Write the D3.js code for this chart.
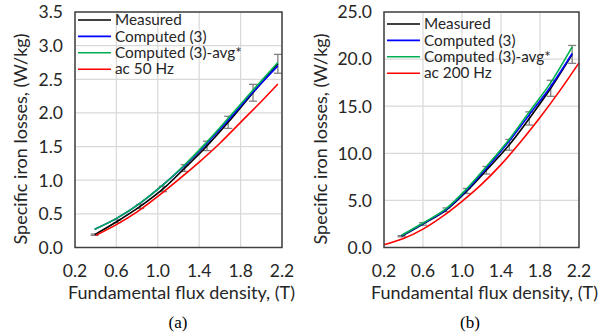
<!DOCTYPE html>
<html>
<head>
<meta charset="utf-8">
<script src="https://cdn.jsdelivr.net/npm/d3@7"></script>
<style>
  body { margin: 0; background: white; }
  svg { display: block; font-family: Lato, "Open Sans", sans-serif; }
</style>
</head>
<body>
<div class="figure"></div>
<script>

// (a) 50 Hz
var fluxA = [0.39, 0.61, 0.83, 1.05, 1.26, 1.475, 1.68, 1.92, 2.16];
var measuredA = [0.19, 0.39, 0.61, 0.87, 1.18, 1.51, 1.86, 2.30, 2.73];
var errA = [0.01, 0.02, 0.03, 0.04, 0.05, 0.07, 0.09, 0.125, 0.14];
var computedA = [0.27, 0.44, 0.66, 0.93, 1.22, 1.55, 1.89, 2.31, 2.70];
var avgA = [0.27, 0.44, 0.66, 0.93, 1.23, 1.57, 1.92, 2.34, 2.75];
var acFluxA = [0.4, 0.6, 0.8, 1.0, 1.2, 1.4, 1.6, 1.8, 2.0, 2.16];
var acA = [0.18, 0.34, 0.53, 0.76, 1.01, 1.27, 1.55, 1.86, 2.17, 2.43];
var yTicksA = [0, 0.5, 1.0, 1.5, 2.0, 2.5, 3.0, 3.5];

// (b) 200 Hz
var fluxB = [0.38, 0.6, 0.84, 1.05, 1.25, 1.485, 1.69, 1.91, 2.13];
var measuredB = [1.2, 2.5, 4.0, 6.0, 8.2, 10.9, 13.7, 16.9, 20.5];
var errB = [0.06, 0.13, 0.2, 0.27, 0.4, 0.57, 0.7, 0.85, 0.95];
var computedB = [1.25, 2.55, 4.05, 6.1, 8.4, 11.3, 14.1, 17.1, 20.6];
var avgB = [1.3, 2.6, 4.15, 6.25, 8.6, 11.5, 14.4, 17.5, 21.3];
var acFluxB = [0.2, 0.4, 0.6, 0.8, 1.0, 1.2, 1.4, 1.6, 1.8, 2.0, 2.2];
var acB = [0.3, 0.95, 1.95, 3.3, 4.9, 6.7, 8.8, 11.2, 13.8, 16.6, 19.6];
var yTicksB = [0, 5, 10, 15, 20, 25];

var xTicks = [0.2, 0.6, 1.0, 1.4, 1.8, 2.2];
var seriesColors = ["#000000", "#0000ff", "#00b050", "#ff0000"];

var svg = d3
  .select(".figure")
  .append("svg")
  .attr("width", 603)
  .attr("height", 336);

function drawPanel(p) {
  var x = d3.scaleLinear().domain([0.2, 2.2]).range([p.left, p.right]);
  var y = d3.scaleLinear().domain([0, p.yMax]).range([p.bottom, p.top]);

  var g = svg.append("g").attr("class", "panel");

  // grid
  g.append("g")
    .selectAll("line")
    .data(xTicks)
    .join("line")
    .attr("x1", (d) => x(d))
    .attr("x2", (d) => x(d))
    .attr("y1", p.top)
    .attr("y2", p.bottom)
    .attr("stroke", "#d9d9d9")
    .attr("stroke-width", 1.2);

  g.append("g")
    .selectAll("line")
    .data(p.yTicks)
    .join("line")
    .attr("x1", p.left)
    .attr("x2", p.right)
    .attr("y1", (d) => y(d))
    .attr("y2", (d) => y(d))
    .attr("stroke", "#d9d9d9")
    .attr("stroke-width", 1.2);

  // tick labels
  g.append("g")
    .selectAll("text")
    .data(p.yTicks)
    .join("text")
    .attr("x", p.left - 12)
    .attr("y", (d) => y(d))
    .attr("dy", "0.36em")
    .attr("text-anchor", "end")
    .style("font-size", "17.5px")
    .style("fill", "#262626")
    .text((d) => d.toFixed(1));

  g.append("g")
    .selectAll("text")
    .data(xTicks)
    .join("text")
    .attr("x", (d) => x(d))
    .attr("y", 277)
    .attr("text-anchor", "middle")
    .style("font-size", "17.5px")
    .style("fill", "#262626")
    .text((d) => d.toFixed(1));

  // error bars
  var eb = g.append("g")
    .attr("stroke", "#808080")
    .attr("stroke-width", 1.3)
    .selectAll("g")
    .data(p.flux)
    .join("g");
  eb.append("line")
    .attr("x1", (d) => x(d))
    .attr("x2", (d) => x(d))
    .attr("y1", (d, i) => y(p.measured[i] - p.err[i]))
    .attr("y2", (d, i) => y(p.measured[i] + p.err[i]));
  eb.append("line")
    .attr("x1", (d) => x(d) - 4)
    .attr("x2", (d) => x(d) + 4)
    .attr("y1", (d, i) => y(p.measured[i] - p.err[i]))
    .attr("y2", (d, i) => y(p.measured[i] - p.err[i]));
  eb.append("line")
    .attr("x1", (d) => x(d) - 4)
    .attr("x2", (d) => x(d) + 4)
    .attr("y1", (d, i) => y(p.measured[i] + p.err[i]))
    .attr("y2", (d, i) => y(p.measured[i] + p.err[i]));

  var line = d3.line()
    .x((d) => x(d[0]))
    .y((d) => y(d[1]))
    .curve(d3.curveMonotoneX);

  var series = [
    d3.zip(p.flux, p.measured),
    d3.zip(p.flux, p.computed),
    d3.zip(p.flux, p.avg),
    d3.zip(p.acFlux, p.ac),
  ];

  g.append("g")
    .selectAll("path")
    .data(series)
    .join("path")
    .attr("d", line)
    .attr("fill", "none")
    .attr("stroke", (d, i) => seriesColors[i])
    .attr("stroke-width", 1.6);

  // frame
  g.append("rect")
    .attr("x", p.left)
    .attr("y", p.top)
    .attr("width", p.right - p.left)
    .attr("height", p.bottom - p.top)
    .attr("fill", "none")
    .attr("stroke", "#404040")
    .attr("stroke-width", 1.5);

  // legend
  var keys = ["Measured", "Computed (3)", "Computed (3)-avg*", p.acLabel];
  var lg = g.append("g")
    .selectAll("g")
    .data(keys)
    .join("g")
    .attr("transform", (d, i) => "translate(" + (p.left + 3) + "," + (p.legendTop + i * 16.4) + ")");
  lg.append("line")
    .attr("x1", 0)
    .attr("x2", 33)
    .attr("stroke", (d, i) => seriesColors[i])
    .attr("stroke-width", 1.6);
  lg.append("text")
    .attr("x", 37)
    .attr("dy", "0.34em")
    .style("font-size", "15.3px")
    .style("fill", "#262626")
    .text((d) => d);

  // axis titles
  g.append("text")
    .attr("x", (p.left + p.right) / 2 + 3)
    .attr("y", 299)
    .attr("text-anchor", "middle")
    .style("font-size", "18px")
    .style("fill", "#262626")
    .text("Fundamental flux density, (T)");

  g.append("text")
    .attr("transform", "translate(" + p.yTitleX + ",139) rotate(-90)")
    .attr("dy", "0.36em")
    .attr("text-anchor", "middle")
    .style("font-size", "18px")
    .style("fill", "#262626")
    .text("Specific iron losses, (W/kg)");

  g.append("text")
    .attr("x", p.captionX)
    .attr("y", 328)
    .attr("text-anchor", "middle")
    .style("font-family", "'Liberation Serif', 'DejaVu Serif', serif")
    .style("font-size", "17px")
    .text(p.caption);
}

drawPanel({
  left: 75, right: 282, top: 12, bottom: 247.5,
  yMax: 3.5, yTicks: yTicksA,
  flux: fluxA, measured: measuredA, err: errA, computed: computedA, avg: avgA,
  acFlux: acFluxA, ac: acA, acLabel: "ac 50 Hz",
  legendTop: 20, yTitleX: 21, captionX: 178, caption: "(a)"
});

drawPanel({
  left: 384, right: 579, top: 12, bottom: 247.5,
  yMax: 25, yTicks: yTicksB,
  flux: fluxB, measured: measuredB, err: errB, computed: computedB, avg: avgB,
  acFlux: acFluxB, ac: acB, acLabel: "ac 200 Hz",
  legendTop: 24, yTitleX: 321, captionX: 470, caption: "(b)"
});

</script>
</body>
</html>
